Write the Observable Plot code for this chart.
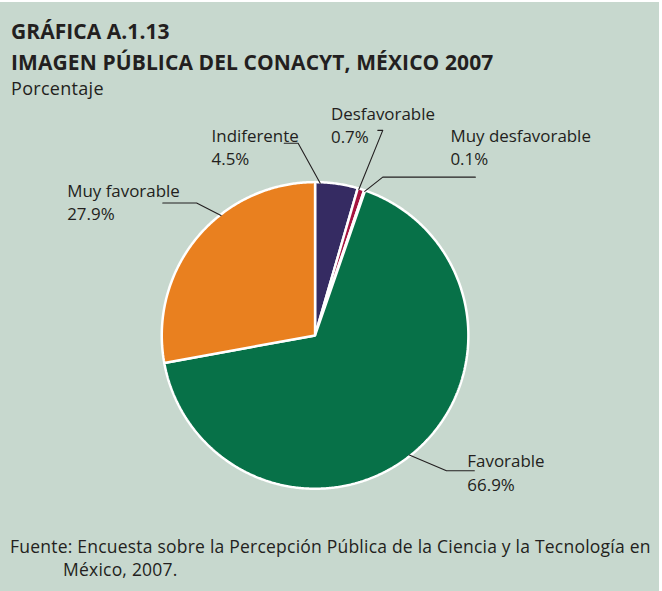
<!DOCTYPE html>
<html>
<head>
<meta charset="utf-8">
<script src="https://cdn.jsdelivr.net/npm/d3@7"></script>
<script src="https://cdn.jsdelivr.net/npm/@observablehq/plot@0.6"></script>
<style>
  html, body { margin: 0; padding: 0; }
  body { width: 662px; height: 591px; overflow: hidden; background: #c7d8ce; }
  #frame { position: relative; width: 659px; height: 589px; border-top: 2px solid #fff; border-right: 3px solid #fff; background: #c7d8ce; font-family: "Open Sans", sans-serif; color: #231f20; }
  .t1 { position: absolute; left: 11px; top: 15px; font-size: 21px; font-weight: 700; letter-spacing: 0.05px; white-space: nowrap; }
  .t2 { position: absolute; left: 11px; top: 46px; font-size: 21px; font-weight: 700; letter-spacing: 0.1px; white-space: nowrap; }
  .sub { position: absolute; left: 11px; top: 74px; font-size: 18px; letter-spacing: 0.3px; white-space: nowrap; }
  #chart { position: absolute; left: 0; top: 96px; }
  .cap { position: absolute; left: 10px; top: 533px; font-size: 17.5px; letter-spacing: 0.22px; line-height: 22.5px; white-space: nowrap; }
  .cap .ind { padding-left: 53px; }
</style>
</head>
<body>
<div id="frame">
  <div class="t1">GRÁFICA A.1.13</div>
  <div class="t2">IMAGEN PÚBLICA DEL CONACYT, MÉXICO 2007</div>
  <div class="sub">Porcentaje</div>
  <div id="chart"></div>
  <div class="cap">Fuente: Encuesta sobre la Percepción Pública de la Ciencia y la Tecnología en<br><span class="ind">México, 2007.</span></div>
</div>
<script>
// ---- data ----
const categories = ["Indiferente", "Desfavorable", "Muy desfavorable", "Favorable", "Muy favorable"];
const values = [4.5, 0.7, 0.1, 66.9, 27.9];
const colors = ["#352b62", "#a5143f", "#d9d9d9", "#077148", "#e9801f"];

// ---- label layout (offsets from pie centre, px, y up) ----
const labelPos = [
  {tx: -104, ty: 171, anchorFrac: 0.12, elbow: [-17, 193], end: [-31, 193]},
  {tx: 16, ty: 193, anchorFrac: 0.2, elbow: [68, 206], end: [63, 206]},
  {tx: 136, ty: 171, anchorFrac: 0.9, elbow: [68, 159], end: [161, 159]},
  {tx: 153, ty: -156, anchorFrac: 0.51, elbow: [132, -136], end: [160, -136]},
  {tx: -249, ty: 116, anchorFrac: 0.62, elbow: [-119, 133], end: [-153, 133]}
];

const R = 154;
const W = 662, H = 412;
const cx = 316, cy = 238; // centre within svg (px)

const pie = d3.pie().sort(null).value(d => d)(values);

// polygon points for slices
const slicePts = [];
pie.forEach((p, i) => {
  const a0 = p.startAngle, a1 = p.endAngle;
  slicePts.push({k: i, x: 0, y: 0});
  const n = Math.max(2, Math.ceil((a1 - a0) / (Math.PI / 360)));
  for (let j = 0; j <= n; j++) {
    const a = a0 + (a1 - a0) * j / n;
    slicePts.push({k: i, x: R * Math.sin(a), y: R * Math.cos(a)});
  }
});

// leader lines
const leaderPts = [];
pie.forEach((p, i) => {
  const L = labelPos[i];
  const a = p.startAngle + (p.endAngle - p.startAngle) * L.anchorFrac;
  leaderPts.push({k: i, x: (R - 1) * Math.sin(a), y: (R - 1) * Math.cos(a)});
  leaderPts.push({k: i, x: L.elbow[0], y: L.elbow[1]});
  leaderPts.push({k: i, x: L.end[0], y: L.end[1]});
});

const labels = categories.map((c, i) => ({
  text: c + "\n" + values[i].toFixed(1) + "%",
  x: labelPos[i].tx, y: labelPos[i].ty
}));

const chart = Plot.plot({
  width: W, height: H,
  margin: 0,
  x: {domain: [-cx, W - cx], range: [0, W], axis: null},
  y: {domain: [-(H - cy), cy], range: [H, 0], axis: null},
  style: {background: "transparent", fontFamily: "Open Sans, sans-serif"},
  marks: [
    Plot.line(slicePts, {x: "x", y: "y", z: "k", curve: "linear-closed",
      fill: d => colors[d.k], stroke: "#fff", strokeWidth: 2.5, strokeLinejoin: "miter"}),
    Plot.line(leaderPts, {x: "x", y: "y", z: "k", stroke: "#231f20", strokeWidth: 1.1}),
    Plot.text(labels, {x: "x", y: "y", text: "text", textAnchor: "start", lineAnchor: "bottom",
      lineHeight: 1.38, fontSize: 17, fill: "#231f20"})
  ]
});
document.getElementById("chart").appendChild(chart);
</script>
</body>
</html>
